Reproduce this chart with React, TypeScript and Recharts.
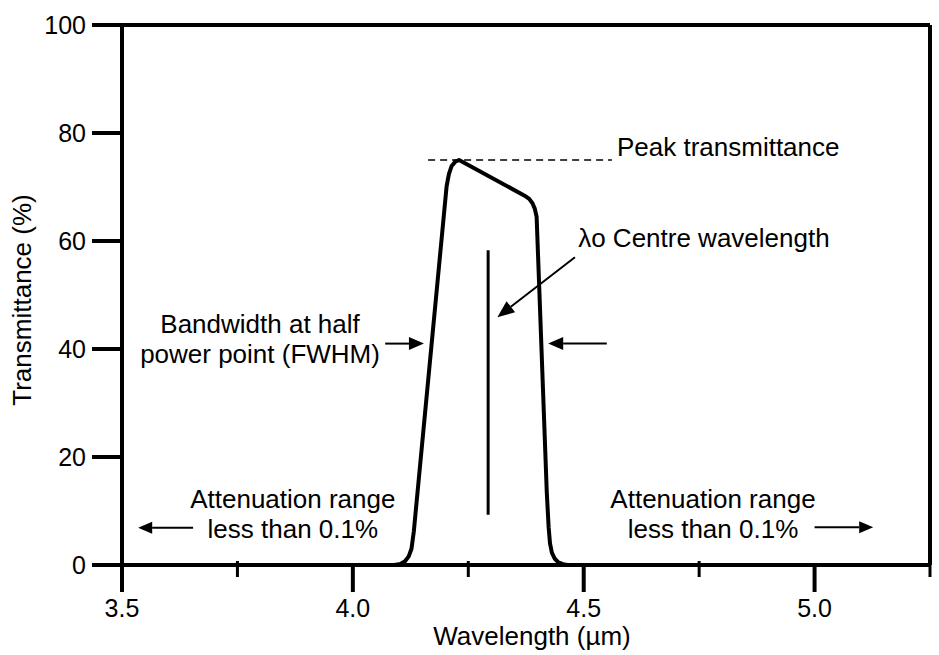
import {
  LineChart,
  Line,
  XAxis,
  YAxis,
  ReferenceLine,
  ReferenceDot,
} from "recharts";

// filter transmission curve
const wavelength = [
  3.5, 4.09, 4.103, 4.113, 4.121, 4.127, 4.132, 4.203, 4.208, 4.214, 4.222,
  4.23, 4.372, 4.382, 4.389, 4.394, 4.398, 4.42, 4.424, 4.427, 4.431, 4.437,
  4.445, 4.455, 4.465, 5.25,
];
const transmittance = [
  0, 0, 0.2, 0.7, 1.6, 3, 6.2, 70.1, 72.4, 73.9, 74.7, 75, 68.4, 67.8, 67, 66,
  64.5, 13.5, 7, 4, 2.3, 1.2, 0.5, 0.15, 0, 0,
];

const xTicks = [3.5, 3.75, 4, 4.25, 4.5, 4.75, 5, 5.25];
const majorXTicks = [3.5, 4, 4.5, 5];
const yTicks = [0, 20, 40, 60, 80, 100];

const peakValue = 75;
const centreWavelength = 4.293;
const halfPower = 41;

const data = wavelength.map((w, i) => ({ w, t: transmittance[i] }));

const FONT = '"Liberation Sans", Arial, sans-serif';
const FS = 25;
const NOTE_FS = 26;

const XTick = (props: any) => {
  const { x, y, payload } = props;
  const major = majorXTicks.includes(payload.value);
  return (
    <g>
      {major ? (
        <line x1={x} x2={x} y1={y} y2={y + 27} stroke="#000" strokeWidth={4} />
      ) : (
        <line x1={x} x2={x} y1={y - 4} y2={y + 12} stroke="#000" strokeWidth={3} />
      )}
      {major && (
        <text
          x={x}
          y={y + 52}
          textAnchor="middle"
          fontSize={FS}
          fontFamily={FONT}
          fill="#000"
        >
          {payload.value.toFixed(1)}
        </text>
      )}
    </g>
  );
};

const arrow = (len: number, wid: number) => (p: any) => {
  const { x1, y1, x2, y2 } = p;
  const a = Math.atan2(y2 - y1, x2 - x1);
  const bx = x2 - len * Math.cos(a);
  const by = y2 - len * Math.sin(a);
  const px = (wid / 2) * -Math.sin(a);
  const py = (wid / 2) * Math.cos(a);
  return (
    <g>
      <line x1={x1} y1={y1} x2={bx} y2={by} stroke="#000" strokeWidth={2} />
      <polygon
        points={`${x2},${y2} ${bx + px},${by + py} ${bx - px},${by - py}`}
        fill="#000"
      />
    </g>
  );
};

const note = (text: string, anchor: "start" | "middle") => (p: any) => (
  <text
    x={p.cx}
    y={p.cy}
    textAnchor={anchor}
    fontSize={NOTE_FS}
    fontFamily={FONT}
    fill="#000"
  >
    {text}
  </text>
);

const notes: { x: number; y: number; text: string; anchor: "start" | "middle" }[] = [
  { x: 4.572, y: 75.7, text: "Peak transmittance", anchor: "start" },
  { x: 4.488, y: 58.9, text: "λo Centre wavelength", anchor: "start" },
  { x: 3.799, y: 43.0, text: "Bandwidth at half", anchor: "middle" },
  { x: 3.799, y: 37.4, text: "power point (FWHM)", anchor: "middle" },
  { x: 3.87, y: 10.6, text: "Attenuation range", anchor: "middle" },
  { x: 3.87, y: 5.0, text: "less than 0.1%", anchor: "middle" },
  { x: 4.78, y: 10.6, text: "Attenuation range", anchor: "middle" },
  { x: 4.78, y: 5.0, text: "less than 0.1%", anchor: "middle" },
];

export default function App() {
  return (
    <div style={{ position: "absolute", left: 0, top: 0 }}>
      <LineChart
        width={939}
        height={655}
        data={data}
        margin={{ top: 25, right: 9, bottom: 0, left: 0 }}
      >
        <XAxis
          dataKey="w"
          type="number"
          domain={[3.5, 5.25]}
          ticks={xTicks}
          interval={0}
          tickLine={false}
          tickSize={0}
          tickMargin={0}
          tick={<XTick />}
          axisLine={{ stroke: "#000", strokeWidth: 4 }}
          height={90}
          label={{
            value: "Wavelength (µm)",
            position: "insideBottom",
            offset: 10,
            dx: 6,
            style: { fontSize: NOTE_FS, fontFamily: FONT, fill: "#000" },
          }}
        />
        <YAxis
          type="number"
          domain={[0, 100]}
          ticks={yTicks}
          interval={0}
          width={122}
          tickSize={30}
          tickMargin={6}
          tickLine={{ stroke: "#000", strokeWidth: 4 }}
          axisLine={{ stroke: "#000", strokeWidth: 4 }}
          tick={{ fill: "#000", fontSize: FS, fontFamily: FONT }}
          label={{
            value: "Transmittance (%)",
            angle: -90,
            position: "center",
            dx: -39,
            dy: 5,
            style: { fontSize: NOTE_FS, fontFamily: FONT, fill: "#000" },
          }}
        />
        <ReferenceLine y={100} stroke="#000" strokeWidth={4} />
        <ReferenceLine x={5.25} stroke="#000" strokeWidth={4} />
        <ReferenceLine
          segment={[
            { x: 4.163, y: peakValue },
            { x: 4.561, y: peakValue },
          ]}
          stroke="#000"
          strokeWidth={1.5}
          strokeDasharray="7 5"
        />
        <ReferenceLine
          segment={[
            { x: centreWavelength, y: 9.3 },
            { x: centreWavelength, y: 58.3 },
          ]}
          stroke="#000"
          strokeWidth={3}
        />
        <ReferenceLine
          segment={[
            { x: 4.481, y: 57.0 },
            { x: 4.313, y: 45.9 },
          ]}
          shape={arrow(17, 14)}
        />
        <ReferenceLine
          segment={[
            { x: 4.07, y: halfPower },
            { x: 4.154, y: halfPower },
          ]}
          shape={arrow(15, 13)}
        />
        <ReferenceLine
          segment={[
            { x: 4.55, y: halfPower },
            { x: 4.423, y: halfPower },
          ]}
          shape={arrow(15, 13)}
        />
        <ReferenceLine
          segment={[
            { x: 3.654, y: 6.9 },
            { x: 3.535, y: 6.9 },
          ]}
          shape={arrow(14, 12)}
        />
        <ReferenceLine
          segment={[
            { x: 5.0, y: 7.0 },
            { x: 5.127, y: 7.0 },
          ]}
          shape={arrow(14, 12)}
        />
        {notes.map((n, i) => (
          <ReferenceDot
            key={i}
            x={n.x}
            y={n.y}
            r={1}
            shape={note(n.text, n.anchor)}
          />
        ))}
        <Line
          type="linear"
          dataKey="t"
          stroke="#000"
          strokeWidth={4}
          strokeLinejoin="round"
          dot={false}
          isAnimationActive={false}
        />
      </LineChart>
    </div>
  );
}
